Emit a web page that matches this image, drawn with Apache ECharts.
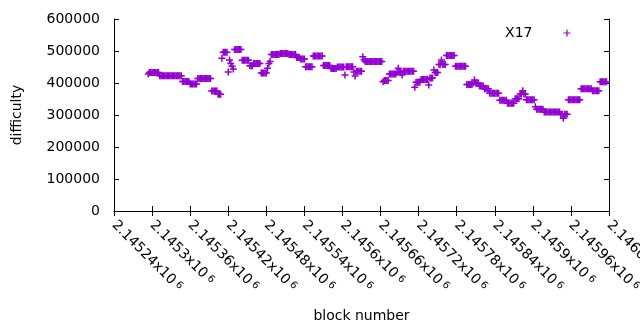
<!DOCTYPE html>
<html>
<head>
<meta charset="utf-8">
<script src="https://cdn.jsdelivr.net/npm/echarts@6/dist/echarts.min.js"></script>
<style>
html,body{margin:0;padding:0;background:#fff;}
#chart{width:640px;height:330px;}
</style>
</head>
<body>
<div id="chart"></div>
<script>
// ---- data ----
const seriesName = 'X17';
const firstBlock = 2145294;   // block number of the first plotted point
const blockStep = 2;          // block spacing between plotted points
const difficulty = [
428000,
433000,433000,433000,433000,433000,433000,433000,433000,
423000,423000,423000,423000,423000,423000,423000,423000,423000,423000,423000,423000,423000,423000,423000,423000,423000,423000,
405000,405000,405000,405000,405000,405000,
397000,397000,397000,397000,397000,397000,
414000,414000,414000,414000,414000,414000,414000,414000,414000,414000,414000,
375000,375000,375000,375000,375000,
365000,365000,365000,
477000,
496000,496000,496000,496000,
434000,472000,461000,452000,444000,
505000,505000,505000,505000,505000,505000,
471000,471000,471000,471000,471000,471000,
454000,454000,454000,
461000,461000,461000,461000,461000,461000,
431000,431000,431000,431000,431000,
446000,461000,467000,
489000,489000,489000,489000,489000,489000,489000,
492000,492000,492000,492000,492000,492000,492000,
489000,489000,489000,489000,489000,489000,
480000,480000,480000,
475000,475000,475000,475000,
451000,451000,451000,451000,451000,451000,
484000,484000,484000,484000,484000,484000,484000,484000,
455000,455000,455000,455000,455000,455000,
445000,445000,445000,445000,445000,
450000,450000,450000,450000,450000,450000,
425000,
451000,451000,451000,451000,451000,451000,
434000,422000,
437000,437000,437000,437000,437000,
482000,472000,
467000,467000,467000,467000,467000,467000,467000,467000,467000,467000,467000,467000,467000,467000,
404000,
408000,408000,408000,408000,
428000,428000,428000,428000,428000,428000,
433000,446000,433000,433000,425000,
437000,437000,437000,437000,437000,437000,437000,437000,437000,
387000,
402000,402000,402000,402000,
411000,411000,411000,411000,411000,411000,
394000,
416000,416000,416000,
441000,
433000,433000,433000,
458000,458000,472000,458000,458000,458000,
486000,486000,486000,486000,486000,486000,486000,
452000,452000,452000,452000,452000,452000,452000,452000,452000,
395000,395000,395000,395000,395000,
400000,409000,400000,400000,400000,
391000,391000,391000,391000,
382000,382000,382000,382000,
368000,368000,368000,368000,368000,368000,368000,368000,
346000,346000,346000,346000,346000,346000,
337000,337000,337000,337000,337000,337000,
351000,351000,351000,351000,
366000,366000,376000,366000,366000,
348000,348000,348000,348000,348000,348000,348000,
326000,
318000,318000,318000,318000,318000,318000,
309000,309000,309000,309000,309000,309000,309000,309000,309000,309000,309000,309000,309000,
302000,302000,290000,302000,302000,302000,
348000,348000,348000,348000,348000,348000,348000,348000,348000,348000,
382000,382000,382000,382000,382000,382000,382000,382000,382000,
376000,376000,376000,376000,376000,376000,
404000,404000,404000,404000,404000,404000
];
const xMin = 2145240;
const xMax = 2146020;
const xInterval = 60;
const xTickLabels = ['2.14524','2.1453','2.14536','2.14542','2.14548','2.14554','2.1456','2.14566','2.14572','2.14578','2.14584','2.1459','2.14596','2.14602'];
const yMin = 0;
const yMax = 600000;
const yInterval = 100000;
const xAxisTitle = 'block number';
const yAxisTitle = 'difficulty';

// ---- chart ----
const FONT = 'DejaVu Sans';
const COLOR = '#9400d3';
const plusSymbol = 'path://M0,3.5L7,3.5M3.5,0L3.5,7';
const points = difficulty.map((v, i) => [firstBlock + i * blockStep, v]);

const chart = echarts.init(document.getElementById('chart'), null, {renderer: 'canvas'});
const axisLine = {show: true, lineStyle: {color: '#000', width: 1}};
const axisTick = {show: true, inside: true, length: 5, lineStyle: {color: '#000', width: 1}};

chart.setOption({
  animation: false,
  backgroundColor: '#fff',
  textStyle: {fontFamily: FONT},
  grid: {left: 114, right: 31, top: 19, bottom: 119, containLabel: false, outerBoundsMode: 'none'},
  legend: {
    show: true,
    data: [seriesName],
    top: 21,
    right: 62,
    align: 'right',
    itemWidth: 7,
    itemHeight: 7,
    icon: plusSymbol,
    itemStyle: {color: 'none', borderColor: COLOR, borderWidth: 1.2},
    textStyle: {fontFamily: FONT, fontSize: 14, color: '#000', padding: [0, 26, 0, 0]}
  },
  xAxis: [{
    type: 'value', position: 'bottom', min: xMin, max: xMax, interval: xInterval,
    axisLine: axisLine, axisTick: axisTick, splitLine: {show: false},
    axisLabel: {
      show: true, rotate: -45, margin: 12, color: '#000', hideOverlap: false,
      showMinLabel: true, showMaxLabel: true,
      formatter: (v) => {
        const k = Math.round((v - xMin) / xInterval);
        return '{m|' + xTickLabels[k] + 'x10}{s|6}';
      },
      rich: {
        m: {fontFamily: FONT, fontSize: 14, color: '#000'},
        s: {fontFamily: FONT, fontSize: 10, color: '#000', verticalAlign: 'top', padding: [0, 0, 0, 3]}
      }
    },
    name: xAxisTitle, nameLocation: 'middle', nameGap: 98,
    nameTextStyle: {fontFamily: FONT, fontSize: 14, color: '#000'}
  }, {
    type: 'value', position: 'top', min: xMin, max: xMax, interval: xInterval,
    axisLine: axisLine, axisTick: axisTick, splitLine: {show: false}, axisLabel: {show: false}
  }],
  yAxis: [{
    type: 'value', position: 'left', min: yMin, max: yMax, interval: yInterval,
    axisLine: axisLine, axisTick: axisTick, splitLine: {show: false},
    axisLabel: {show: true, margin: 14, color: '#000', fontFamily: FONT, fontSize: 14, formatter: (v) => String(v)},
    name: yAxisTitle, nameLocation: 'middle', nameGap: 90, nameRotate: 90,
    nameTextStyle: {fontFamily: FONT, fontSize: 14, color: '#000'}
  }, {
    type: 'value', position: 'right', min: yMin, max: yMax, interval: yInterval,
    axisLine: axisLine, axisTick: axisTick, splitLine: {show: false}, axisLabel: {show: false}
  }],
  series: [{
    name: seriesName,
    type: 'scatter',
    xAxisIndex: 0, yAxisIndex: 0,
    symbol: plusSymbol,
    symbolSize: 7,
    itemStyle: {color: 'none', borderColor: COLOR, borderWidth: 1.5, opacity: 1},
    emphasis: {disabled: true},
    data: points
  }]
});
</script>
</body>
</html>
